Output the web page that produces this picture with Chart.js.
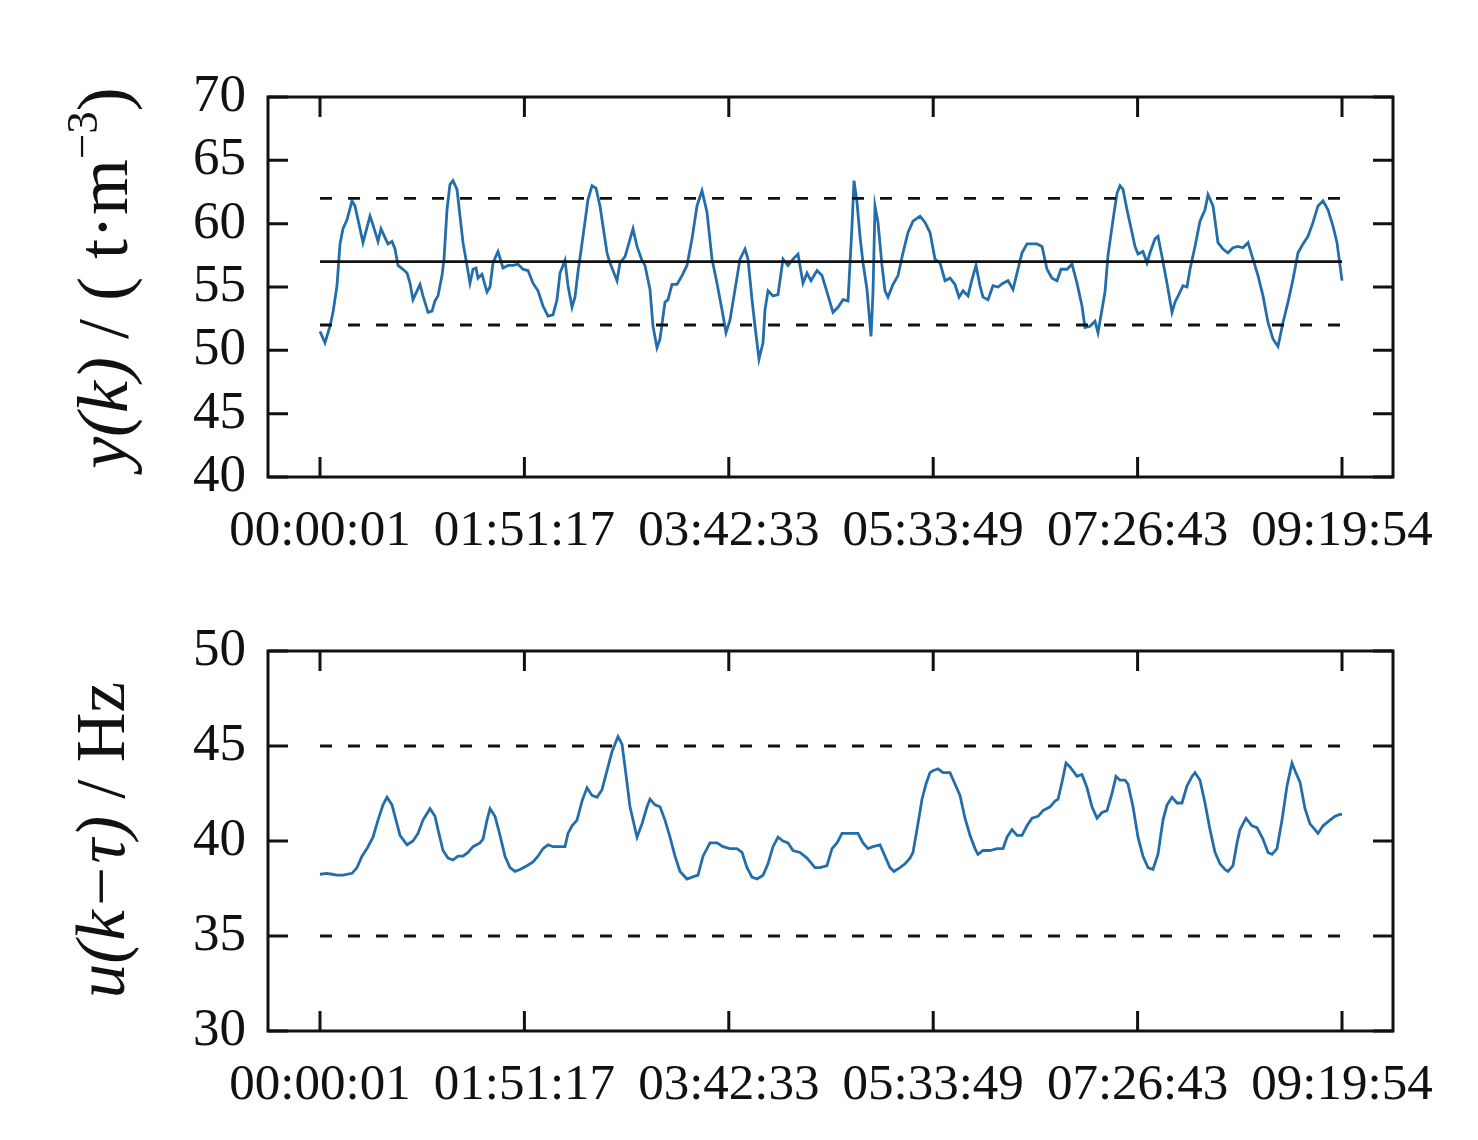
<!DOCTYPE html>
<html>
<head>
<meta charset="UTF-8">
<title>y(k) and u(k−τ)</title>
<script src="https://cdn.jsdelivr.net/npm/chart.js@4.4.0/dist/chart.umd.min.js"></script>
<style>
    body { margin: 0; background: #fff; }
    .panel { width: 1478px; height: 570px; }
    canvas { display: block; }
</style>
</head>
<body>
<div class="panel"><canvas id="topChart" width="1478" height="570"></canvas></div>
<div class="panel"><canvas id="bottomChart" width="1478" height="570"></canvas></div>
<script>
// x axis: sample index, labelled with clock times at 5 equal steps
const timeLabels = ['00:00:01', '01:51:17', '03:42:33', '05:33:49', '07:26:43', '09:19:54'];
const lastSample = 1022;
const xMin = -52, xMax = 1073;

// y(k) density, t/m3
const yTicks = [40, 45, 50, 55, 60, 65, 70];
const yLow = 52, ySet = 57, yHigh = 62;
const yIdx = [
    0, 5, 10, 13, 17, 20, 23, 27, 32, 35,
    40, 43, 47, 50, 53, 58, 61, 65, 68, 72,
    75, 78, 83, 87, 90, 93, 97, 100, 103, 108,
    112, 115, 118, 122, 124, 127, 130, 133, 137, 140,
    143, 147, 150, 153, 156, 158, 162, 167, 170, 173,
    178, 183, 188, 193, 198, 203, 208, 213, 218, 223,
    228, 233, 237, 240, 245, 248, 252, 255, 258, 263,
    268, 272, 276, 280, 283, 287, 290, 297, 300, 305,
    308, 313, 317, 322, 325, 330, 333, 337, 340, 345,
    348, 352, 357, 362, 367, 372, 377, 382, 387, 392,
    397, 402, 406, 410, 415, 420, 425, 428, 432, 435,
    439, 443, 445, 448, 453, 458, 463, 468, 473, 478,
    483, 487, 491, 497, 502, 507, 513, 518, 523, 528,
    532, 534, 537, 540, 543, 547, 551, 553, 555, 558,
    562, 565, 568, 573, 578, 583, 588, 593, 600, 605,
    610, 615, 620, 625, 630, 635, 639, 643, 648, 652,
    656, 660, 663, 668, 673, 678, 683, 688, 693, 697,
    702, 707, 712, 717, 722, 727, 732, 737, 741, 747,
    752, 757, 762, 765, 770, 775, 778, 785, 788, 793,
    797, 800, 803, 807, 812, 815, 818, 823, 827, 830,
    835, 838, 842, 847, 852, 855, 860, 863, 867, 870,
    875, 880, 885, 888, 893, 898, 903, 908, 913, 918,
    923, 928, 933, 938, 943, 948, 953, 958, 963, 968,
    973, 978, 983, 988, 993, 998, 1003, 1008, 1013, 1017,
    1022
];
const yVals = [
    51.5, 50.6, 51.9, 53, 55.1, 58.4, 59.6, 60.3, 61.8, 61.4,
    59.6, 58.5, 59.7, 60.6, 59.9, 58.6, 59.6, 58.9, 58.4, 58.6,
    58, 56.7, 56.4, 56.1, 55.3, 54, 54.7, 55.2, 54.3, 53,
    53.1, 53.9, 54.3, 55.9, 57.2, 61.1, 63.1, 63.4, 62.7, 60.6,
    58.5, 56.7, 55.3, 56.4, 56.5, 55.7, 56, 54.6, 55, 56.9,
    57.8, 56.5, 56.7, 56.7, 56.8, 56.4, 56.3, 55.3, 54.7, 53.5,
    52.7, 52.8, 54, 56.1, 57.1, 55.1, 53.4, 54.2, 56.2, 59,
    61.9, 63, 62.8, 61.4, 59.8, 57.7, 56.9, 55.5, 56.9, 57.4,
    58.2, 59.6, 58.2, 57.1, 56.7, 54.8, 51.9, 50.2, 50.9, 53.8,
    54, 55.2, 55.2, 55.9, 56.7, 58.8, 61.4, 62.6, 60.9, 57.2,
    55.3, 53.2, 51.4, 52.4, 54.8, 57.2, 58, 57.2, 54, 51.9,
    49.3, 50.6, 53.2, 54.7, 54.3, 54.4, 57.2, 56.7, 57.2, 57.6,
    55.3, 56.1, 55.5, 56.3, 55.9, 54.6, 53, 53.4, 54, 53.9,
    59.8, 63.4, 61.7, 59, 56.9, 54.8, 51.1, 54.6, 61.4, 60.1,
    56.7, 54.7, 54.2, 55.2, 55.9, 57.7, 59.3, 60.2, 60.6, 60.1,
    59.3, 57.2, 56.9, 55.5, 55.7, 55.2, 54.2, 54.7, 54.3, 55.6,
    56.7, 55.1, 54.2, 54, 55.1, 55, 55.3, 55.5, 54.8, 56.1,
    57.7, 58.4, 58.4, 58.4, 58.2, 56.4, 55.7, 55.5, 56.4, 56.4,
    56.8, 55.3, 53.5, 51.8, 51.9, 52.3, 51.4, 54.6, 57.5, 60.3,
    62.4, 63, 62.7, 61.1, 59.3, 58.2, 57.6, 57.8, 56.9, 57.7,
    58.8, 59, 57.4, 55.3, 53, 53.8, 54.6, 55.1, 55, 56.4,
    58.2, 60.2, 61.1, 62.3, 61.4, 58.5, 58, 57.7, 58.1, 58.2,
    58.1, 58.5, 57.2, 55.9, 54.3, 52.2, 50.9, 50.3, 52.2, 53.8,
    55.6, 57.7, 58.4, 59, 60.1, 61.4, 61.8, 61.1, 59.8, 58.5,
    55.5
];

// u(k - tau) frequency, Hz
const uTicks = [30, 35, 40, 45, 50];
const uLow = 35, uHigh = 45;
const uIdx = [
    0, 7, 12, 17, 23, 32, 37, 42, 47, 53,
    58, 63, 67, 72, 75, 80, 87, 93, 98, 103,
    110, 115, 118, 123, 128, 133, 138, 143, 148, 153,
    160, 163, 167, 170, 175, 180, 185, 190, 195, 200,
    207, 213, 218, 223, 228, 233, 245, 248, 252, 257,
    262, 267, 272, 277, 282, 287, 292, 298, 302, 305,
    310, 317, 322, 327, 330, 335, 340, 345, 350, 355,
    360, 367, 372, 378, 383, 390, 397, 403, 410, 417,
    422, 427, 432, 437, 443, 448, 453, 458, 463, 468,
    473, 480, 487, 495, 500, 507, 512, 517, 522, 527,
    530, 538, 543, 548, 553, 560, 565, 570, 574, 580,
    585, 590, 593, 597, 602, 606, 610, 613, 618, 623,
    630, 635, 640, 645, 650, 655, 658, 663, 670, 677,
    683, 687, 692, 697, 702, 707, 712, 718, 723, 730,
    735, 738, 742, 746, 750, 757, 762, 767, 772, 777,
    782, 787, 792, 796, 800, 805, 808, 813, 818, 823,
    828, 833, 838, 843, 847, 852, 857, 862, 867, 872,
    875, 880, 885, 890, 895, 900, 905, 908, 913, 917,
    920, 926, 932, 937, 943, 948, 952, 957, 962, 967,
    972, 975, 980, 985, 990, 995, 998, 1003, 1010, 1015,
    1020, 1022
];
const uVals = [
    38.25, 38.3, 38.25, 38.2, 38.2, 38.3, 38.6, 39.2, 39.6, 40.2,
    41.1, 41.9, 42.3, 41.9, 41.3, 40.3, 39.8, 40, 40.4, 41.1,
    41.7, 41.3, 40.6, 39.5, 39.1, 39, 39.2, 39.2, 39.4, 39.7,
    39.9, 40.1, 41.1, 41.7, 41.3, 40.3, 39.2, 38.6, 38.4, 38.5,
    38.7, 38.9, 39.2, 39.6, 39.8, 39.7, 39.7, 40.4, 40.8, 41.1,
    42.1, 42.8, 42.4, 42.3, 42.7, 43.7, 44.7, 45.5, 45.1, 43.9,
    41.8, 40.2, 40.9, 41.8, 42.2, 41.9, 41.8, 41.1, 40.2, 39.2,
    38.4, 38, 38.1, 38.2, 39.2, 39.9, 39.9, 39.7, 39.6, 39.6,
    39.4, 38.6, 38.1, 38, 38.2, 38.8, 39.7, 40.2, 40, 39.9,
    39.5, 39.4, 39.1, 38.6, 38.6, 38.7, 39.6, 39.9, 40.4, 40.4,
    40.4, 40.4, 39.9, 39.6, 39.7, 39.8, 39.2, 38.6, 38.4, 38.6,
    38.8, 39.1, 39.4, 40.6, 42.2, 43, 43.6, 43.7, 43.8, 43.6,
    43.6, 43, 42.4, 41.2, 40.3, 39.6, 39.3, 39.5, 39.5, 39.6,
    39.6, 40.2, 40.6, 40.3, 40.3, 40.8, 41.2, 41.3, 41.6, 41.8,
    42.1, 42.2, 43.1, 44.1, 43.9, 43.4, 43.5, 42.8, 41.8, 41.2,
    41.5, 41.6, 42.5, 43.4, 43.2, 43.2, 43, 41.8, 40.2, 39.2,
    38.6, 38.5, 39.3, 41.1, 41.9, 42.3, 42, 42, 42.9, 43.4,
    43.6, 43.2, 42, 40.6, 39.4, 38.8, 38.5, 38.4, 38.7, 39.9,
    40.6, 41.2, 40.8, 40.7, 40.1, 39.4, 39.3, 39.6, 41.1, 42.9,
    44.1, 43.7, 43.1, 41.7, 40.9, 40.6, 40.4, 40.8, 41.1, 41.3,
    41.4, 41.4
];

const serif = '"Liberation Serif", "DejaVu Serif", serif';
const lineBlue = '#236eaa';
const ink = '#111';

Chart.defaults.font.family = serif;
Chart.defaults.color = ink;

// box round the plot area plus inward ticks on all four sides
const frameTicks = {
    id: 'frameTicks',
    afterDraw(chart) {
        const { ctx, chartArea: a, scales: { x, y } } = chart;
        ctx.save();
        ctx.strokeStyle = ink;
        ctx.lineWidth = 3;
        ctx.beginPath();
        x.ticks.forEach(t => {
            const px = x.getPixelForValue(t.value);
            ctx.moveTo(px, a.bottom); ctx.lineTo(px, a.bottom - 20);
            ctx.moveTo(px, a.top); ctx.lineTo(px, a.top + 20);
        });
        y.ticks.forEach(t => {
            const py = y.getPixelForValue(t.value);
            ctx.moveTo(a.left, py); ctx.lineTo(a.left + 20, py);
            ctx.moveTo(a.right, py); ctx.lineTo(a.right - 20, py);
        });
        ctx.stroke();
        ctx.strokeRect(a.left, a.top, a.right - a.left, a.bottom - a.top);
        ctx.restore();
    }
};

// rotated y title with italic and superscript pieces
const sideTitle = {
    id: 'sideTitle',
    afterDraw(chart, args, opts) {
        const { ctx } = chart;
        const size = opts.size;
        const fontOf = p => (p.it ? 'italic ' : '') + Math.round(p.sup ? size * 0.62 : size) + 'px ' + serif;
        let total = 0;
        opts.parts.forEach(p => { ctx.font = fontOf(p); total += ctx.measureText(p.t).width; });
        ctx.save();
        ctx.translate(opts.x, opts.y);
        ctx.rotate(-Math.PI / 2);
        ctx.fillStyle = ink;
        ctx.textBaseline = 'alphabetic';
        let cx = -total / 2;
        opts.parts.forEach(p => {
            ctx.font = fontOf(p);
            ctx.fillText(p.t, cx, p.sup ? -size * 0.42 : 0);
            cx += ctx.measureText(p.t).width;
        });
        ctx.restore();
    }
};

function flat(v) {
    return [{ x: 0, y: v }, { x: lastSample, y: v }];
}

function refLine(v, dashed) {
    return {
        data: flat(v),
        borderColor: ink,
        borderWidth: 2.8,
        borderDash: dashed ? [12, 16] : [],
        pointRadius: 0,
        order: 0
    };
}

function makeChart(id, idx, vals, refs, yMin, yMax, ticks, title, pad, xHeight) {
    const series = idx.map((k, i) => ({ x: k, y: vals[i] }));
    return new Chart(document.getElementById(id), {
        type: 'line',
        data: {
            datasets: [
                { data: series, borderColor: lineBlue, borderWidth: 2.8, pointRadius: 0, tension: 0, order: 1 },
                ...refs
            ]
        },
        plugins: [frameTicks, sideTitle],
        options: {
            responsive: false,
            animation: false,
            layout: { padding: pad },
            plugins: {
                legend: { display: false },
                tooltip: { enabled: false },
                sideTitle: title
            },
            scales: {
                x: {
                    type: 'linear',
                    min: xMin,
                    max: xMax,
                    afterBuildTicks: s => {
                        s.ticks = timeLabels.map((_, i) => ({ value: i * lastSample / (timeLabels.length - 1) }));
                    },
                    afterFit: s => { s.height = xHeight; },
                    grid: { display: false, drawTicks: false },
                    border: { display: false },
                    ticks: {
                        autoSkip: false,
                        maxRotation: 0,
                        padding: 24,
                        font: { size: 51 },
                        callback: (v, i) => timeLabels[i]
                    }
                },
                y: {
                    min: yMin,
                    max: yMax,
                    afterBuildTicks: s => { s.ticks = ticks.map(v => ({ value: v })); },
                    afterFit: s => { s.width = 268; },
                    grid: { display: false, drawTicks: false },
                    border: { display: false },
                    ticks: { autoSkip: false, padding: 22, font: { size: 53 } }
                }
            }
        }
    });
}

makeChart('topChart', yIdx, yVals,
    [refLine(yHigh, true), refLine(ySet, false), refLine(yLow, true)],
    40, 70, yTicks,
    {
        x: 127, y: 278, size: 72,
        parts: [{ t: 'y(k)', it: true }, { t: ' / ( t\u00b7m' }, { t: '\u22123', sup: true }, { t: ')' }]
    },
    { left: 0, top: 97, right: 85, bottom: 0 }, 93);

makeChart('bottomChart', uIdx, uVals,
    [refLine(uHigh, true), refLine(uLow, true)],
    30, 50, uTicks,
    {
        x: 124, y: 270, size: 69,
        parts: [{ t: 'u(k\u2212\u03c4)', it: true }, { t: ' / Hz' }]
    },
    { left: 0, top: 81, right: 85, bottom: 0 }, 109);
</script>
</body>
</html>
